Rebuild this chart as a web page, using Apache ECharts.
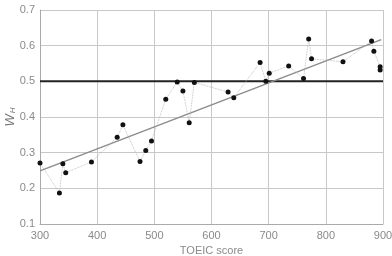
<!DOCTYPE html>
<html>
<head>
<meta charset="utf-8">
<script src="https://cdn.jsdelivr.net/npm/echarts@6/dist/echarts.min.js"></script>
<style>
html, body { margin: 0; padding: 0; background: #fff; }
#main { width: 392px; height: 256px; }
</style>
</head>
<body>
<div id="main"></div>
<script>
// measured points (TOEIC score vs W_H), in score order
var scores = [300, 334, 340, 345, 390, 435, 445, 475, 485, 495, 520, 540, 550, 561, 570,
              629, 639, 685, 695, 701, 735, 761, 770, 775, 830, 880, 884, 895, 895];
var wh = [0.271, 0.187, 0.269, 0.244, 0.274, 0.343, 0.378, 0.275, 0.306, 0.333, 0.450, 0.498, 0.473, 0.384, 0.497,
          0.470, 0.454, 0.553, 0.500, 0.523, 0.543, 0.508, 0.619, 0.563, 0.555, 0.613, 0.584, 0.541, 0.532];
// regression line ends
var fitX = [300, 897];
var fitY = [0.249, 0.617];
// chance level
var refX = [300, 900];
var refY = [0.5, 0.5];
var xTicks = [300, 400, 500, 600, 700, 800, 900];
var yTicks = [0.1, 0.2, 0.3, 0.4, 0.5, 0.6, 0.7];

function pairs(xs, ys) {
    return xs.map(function (x, i) { return [x, ys[i]]; });
}

var chart = echarts.init(document.getElementById('main'));
var labelFont = { color: '#8a8a8a', fontSize: 11, fontFamily: 'Liberation Sans' };

chart.setOption({
    animation: false,
    grid: { left: 40, right: 9, top: 10, bottom: 32, containLabel: false, outerBoundsMode: 'none' },
    xAxis: {
        type: 'value',
        min: xTicks[0], max: xTicks[xTicks.length - 1], interval: 100,
        name: 'TOEIC score',
        nameLocation: 'middle',
        nameGap: 21,
        nameMoveOverlap: false,
        nameTextStyle: { color: '#8a8a8a', fontSize: 11, fontFamily: 'Liberation Sans' },
        axisLine: { lineStyle: { color: '#aaa', width: 1 } },
        axisTick: { show: false },
        axisLabel: Object.assign({ margin: 6 }, labelFont),
        splitLine: { lineStyle: { color: '#c8c8c8', width: 1 } }
    },
    yAxis: {
        type: 'value',
        min: yTicks[0], max: yTicks[yTicks.length - 1], interval: 0.1,
        name: '{w|W}{h|H}',
        nameLocation: 'middle',
        nameRotate: 90,
        nameGap: 23,
        nameMoveOverlap: false,
        nameTextStyle: {
            rich: {
                w: { fontStyle: 'italic', fontSize: 13, color: '#777', fontFamily: 'Liberation Sans' },
                h: { fontStyle: 'italic', fontSize: 8, color: '#777', fontFamily: 'Liberation Sans', verticalAlign: 'bottom', padding: [5, 0, 0, 1] }
            }
        },
        axisLine: { show: true, lineStyle: { color: '#aaa', width: 1 } },
        axisTick: { show: false },
        axisLabel: Object.assign({ margin: 5, formatter: function (v) { return v.toFixed(1); } }, labelFont),
        splitLine: { lineStyle: { color: '#c8c8c8', width: 1 } }
    },
    series: [
        {
            type: 'line',
            data: pairs(refX, refY),
            symbol: 'none',
            lineStyle: { color: '#222', width: 2 },
            z: 2
        },
        {
            type: 'line',
            data: pairs(fitX, fitY),
            symbol: 'none',
            lineStyle: { color: '#8c8c8c', width: 1.5 },
            z: 3
        },
        {
            type: 'line',
            data: pairs(scores, wh),
            symbol: 'circle',
            symbolSize: 5,
            itemStyle: { color: '#111' },
            lineStyle: { color: '#b0b0b0', width: 0.8, type: 'dotted' },
            z: 4
        }
    ]
});
</script>
</body>
</html>
